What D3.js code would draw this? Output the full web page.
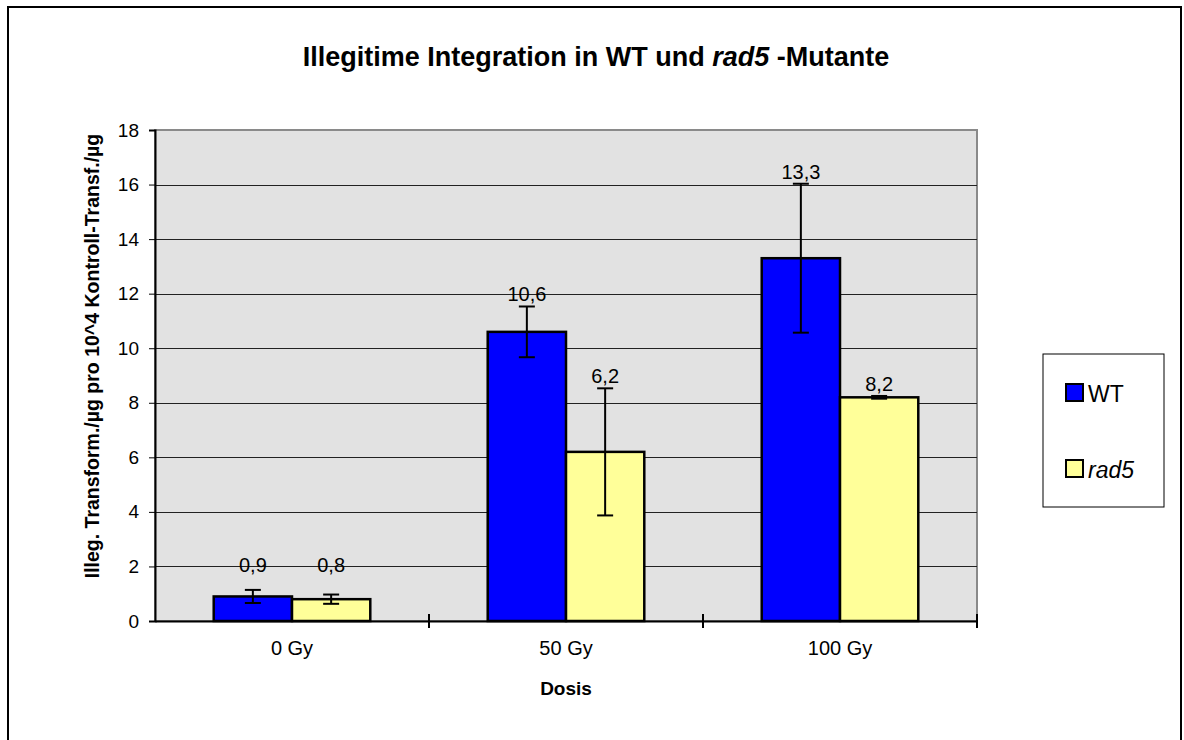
<!DOCTYPE html>
<html>
<head>
<meta charset="utf-8">
<script src="https://cdn.jsdelivr.net/npm/d3@7"></script>
<style>
  body { margin: 0; background: #fff; }
  svg { display: block; font-family: "Liberation Sans", Arial, sans-serif; }
</style>
</head>
<body>
<svg id="chart" width="1184" height="740"></svg>
<script>
// data
var categories = ["0 Gy", "50 Gy", "100 Gy"];
var seriesNames = ["WT", "rad5"];
var wtValues = [0.9, 10.6, 13.3];
var rad5Values = [0.8, 6.2, 8.2];
var wtErrors = [0.24, 0.93, 2.73];
var rad5Errors = [0.17, 2.33, 0.05];
var yTicks = [0, 2, 4, 6, 8, 10, 12, 14, 16, 18];

var colors = ["#0000ff", "#ffff99"];

var svg = d3.select("#chart");
var margin = {left: 155, right: 977, top: 130, bottom: 621};

// outer frame (open at the bottom, like the cropped original)
svg.append("path")
  .attr("d", "M8,740V7H1181V740")
  .attr("fill", "none")
  .attr("stroke", "#000")
  .attr("stroke-width", 2);

var x0 = d3.scaleBand()
  .domain(categories)
  .range([margin.left, margin.right])
  .paddingInner(0)
  .paddingOuter(0);

// gap width 150% -> two bars take 2/3.5 of the band
var groupWidth = x0.bandwidth() * 2 / 3.5;
var x1 = d3.scaleBand()
  .domain(seriesNames)
  .range([0, groupWidth]);

var y = d3.scaleLinear()
  .domain([0, 18])
  .range([margin.bottom, margin.top]);

// plot area
svg.append("rect")
  .attr("x", margin.left)
  .attr("y", margin.top)
  .attr("width", margin.right - margin.left)
  .attr("height", margin.bottom - margin.top)
  .attr("fill", "#e2e2e2")
  .attr("stroke", "#8a8a8a")
  .attr("stroke-width", 2);

// gridlines
svg.append("g")
  .selectAll("line")
  .data(yTicks.filter(function (d) { return d > 0 && d < 18; }))
  .enter()
  .append("line")
  .attr("x1", margin.left)
  .attr("x2", margin.right)
  .attr("y1", function (d) { return Math.round(y(d)) + 0.5; })
  .attr("y2", function (d) { return Math.round(y(d)) + 0.5; })
  .attr("stroke", "#222")
  .attr("stroke-width", 1);

// y axis
var yAxis = d3.axisLeft(y)
  .tickValues(yTicks)
  .tickSize(6)
  .tickPadding(10);
var yg = svg.append("g")
  .attr("transform", "translate(" + margin.left + ",0)")
  .call(yAxis);
yg.select(".domain").attr("stroke", "#000").attr("stroke-width", 2);
yg.selectAll(".tick line").attr("stroke", "#000");
yg.selectAll("text")
  .attr("font-size", 19)
  .attr("font-family", "Liberation Sans, Arial, sans-serif")
  .attr("fill", "#000");

// x axis
var xAxis = d3.axisBottom(x0).tickSize(0).tickPadding(20);
var xg = svg.append("g")
  .attr("transform", "translate(0," + margin.bottom + ")")
  .call(xAxis);
xg.select(".domain").attr("stroke", "#000").attr("stroke-width", 2);
xg.selectAll("text")
  .attr("font-size", 20)
  .attr("font-family", "Liberation Sans, Arial, sans-serif")
  .attr("fill", "#000");

// category separator ticks (cross the axis)
var boundaries = categories.map(function (c) { return x0(c); })
  .concat([x0(categories[categories.length - 1]) + x0.bandwidth()]);
svg.append("g")
  .selectAll("line")
  .data(boundaries.slice(1))
  .enter()
  .append("line")
  .attr("x1", function (d) { return d; })
  .attr("x2", function (d) { return d; })
  .attr("y1", margin.bottom - 7)
  .attr("y2", margin.bottom + 7)
  .attr("stroke", "#000")
  .attr("stroke-width", 2);

// bars
var rows = categories.map(function (c, i) {
  return [
    {cat: c, name: "WT", value: wtValues[i], err: wtErrors[i]},
    {cat: c, name: "rad5", value: rad5Values[i], err: rad5Errors[i]}
  ];
});

var groups = svg.append("g")
  .selectAll("g")
  .data(rows)
  .enter()
  .append("g")
  .attr("transform", function (d) {
    var cx = x0(d[0].cat) + x0.bandwidth() / 2;
    return "translate(" + (cx - groupWidth / 2) + ",0)";
  });

groups.selectAll("rect")
  .data(function (d) { return d; })
  .enter()
  .append("rect")
  .attr("x", function (d) { return x1(d.name); })
  .attr("y", function (d) { return y(d.value); })
  .attr("width", x1.bandwidth())
  .attr("height", function (d) { return y(0) - y(d.value); })
  .attr("fill", function (d, i) { return colors[i]; })
  .attr("stroke", "#000")
  .attr("stroke-width", 2.5);

// error bars
var errs = groups.selectAll("g.err")
  .data(function (d) { return d; })
  .enter()
  .append("g")
  .attr("class", "err")
  .attr("transform", function (d) {
    return "translate(" + (x1(d.name) + x1.bandwidth() / 2) + ",0)";
  });

errs.append("line")
  .attr("x1", 0).attr("x2", 0)
  .attr("y1", function (d) { return y(d.value + d.err); })
  .attr("y2", function (d) { return y(d.value - d.err); })
  .attr("stroke", "#000").attr("stroke-width", 2);
errs.append("line")
  .attr("x1", -8).attr("x2", 8)
  .attr("y1", function (d) { return y(d.value + d.err); })
  .attr("y2", function (d) { return y(d.value + d.err); })
  .attr("stroke", "#000").attr("stroke-width", 2);
errs.append("line")
  .attr("x1", -8).attr("x2", 8)
  .attr("y1", function (d) { return y(d.value - d.err); })
  .attr("y2", function (d) { return y(d.value - d.err); })
  .attr("stroke", "#000").attr("stroke-width", 2);

// value labels
errs.append("text")
  .attr("text-anchor", "middle")
  .attr("y", function (d) { return Math.min(y(d.value + d.err) - 5, y(1.8)); })
  .attr("font-size", 20)
  .attr("fill", "#000")
  .text(function (d) { return d3.format(".1f")(d.value).replace(".", ","); });

// title
var title = svg.append("text")
  .attr("x", 596)
  .attr("y", 66)
  .attr("text-anchor", "middle")
  .attr("font-size", 27)
  .attr("font-weight", "bold");
title.append("tspan").text("Illegitime Integration in WT und ");
title.append("tspan").attr("font-style", "italic").text("rad5");
title.append("tspan").text(" -Mutante");

// axis titles
svg.append("text")
  .attr("x", (margin.left + margin.right) / 2)
  .attr("y", 695)
  .attr("text-anchor", "middle")
  .attr("font-size", 19)
  .attr("font-weight", "bold")
  .text("Dosis");

svg.append("text")
  .attr("transform", "translate(99,356) rotate(-90)")
  .attr("text-anchor", "middle")
  .attr("font-size", 19.5)
  .attr("font-weight", "bold")
  .text("Illeg. Transform./µg pro 10^4 Kontroll-Transf./µg");

// legend
var legend = svg.append("g").attr("transform", "translate(1043,354)");
legend.append("rect")
  .attr("width", 121)
  .attr("height", 153)
  .attr("fill", "#fff")
  .attr("stroke", "#000")
  .attr("stroke-width", 1);

var legendRows = legend.selectAll("g")
  .data(seriesNames)
  .enter()
  .append("g")
  .attr("transform", function (d, i) { return "translate(23," + (30 + i * 76) + ")"; });

legendRows.append("rect")
  .attr("width", 17)
  .attr("height", 17)
  .attr("fill", function (d, i) { return colors[i]; })
  .attr("stroke", "#000")
  .attr("stroke-width", 2);

legendRows.append("text")
  .attr("x", 22)
  .attr("y", 18)
  .attr("font-size", 23)
  .attr("font-style", function (d) { return d === "rad5" ? "italic" : "normal"; })
  .text(function (d) { return d; });
</script>
</body>
</html>
